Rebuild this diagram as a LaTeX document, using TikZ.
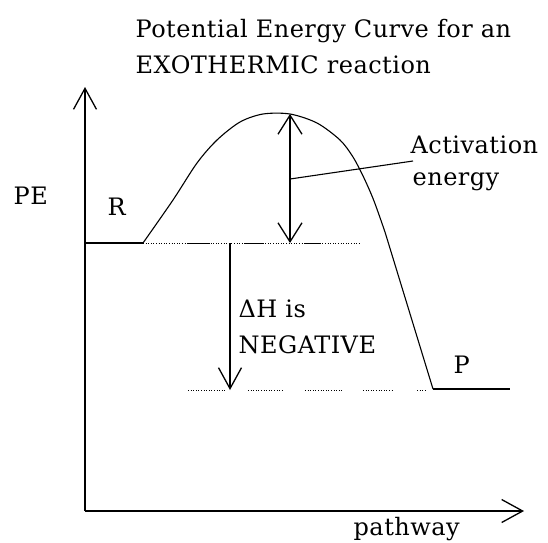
\documentclass[tikz,border=0pt]{standalone}
\usepackage{fontspec}
\setmainfont{DejaVu Serif}[LetterSpace=2]
\usetikzlibrary{arrows.meta}

\tikzset{
  barb/.style={-{Straight Barb[length=21pt,width=23pt]}},
  twobarb/.style={{Straight Barb[length=19pt,width=24pt]}-{Straight Barb[length=19pt,width=24pt]}},
  lbl/.style={anchor=base west,inner sep=0pt,font=\fontsize{24}{28}\selectfont},
  dots/.style={line width=1pt,dash pattern=on 1pt off 1.6pt},
}

\begin{document}
\begin{tikzpicture}[x=1pt,y=-1pt,line width=1.3pt]
    \useasboundingbox (0,0) rectangle (548,542);
    \coordinate (O) at (85,511);
    \coordinate (Ytop) at (85,87);
    \coordinate (Xend) at (524,511);
    \coordinate (R0) at (85,243);
    \coordinate (R1) at (143,243);
    \coordinate (Rdot) at (360,243);
    \coordinate (Top) at (290,114);
    \coordinate (Ebase) at (290,243);
    \coordinate (Emid) at (290,179);
    \coordinate (Elbl) at (413,161);
    \coordinate (Hstart) at (230,243);
    \coordinate (Hend) at (230,390);
    \coordinate (P0) at (433,389);
    \coordinate (P1) at (510,389);
    % axes
    \draw[barb] (O) -- (Ytop);
    \draw[barb] (O) -- (Xend);
    % reactants, hump, products
    \draw (R0) -- (R1);
    \draw[line width=1.1pt] plot[smooth] coordinates {(R1) (173,200) (197,163)
      (217,140) (240,122) (263,114) (290,114) (317,123) (340,140) (353,157)
      (364,178) (374,201) (385,232)} -- (P0);
    \draw (P0) -- (P1);
    % energy levels
    \draw[dots] (R1) -- (Rdot);
    \foreach \a/\b in {188/210,245/263,305/320}
      \draw[line width=1pt] (\a,243) -- (\b,243);
    \foreach \a/\b in {188/225,248/282,305/342,363/393,417/425}
      \draw[dots] (\a,390) -- (\b,390);
    % arrows
    \draw[twobarb] (Top) -- (Ebase);
    \draw[line width=1.1pt] (Emid) -- (Elbl);
    \draw[barb] (Hstart) -- (Hend);
    % labels
    \node[lbl] (title1) at (135,37) {Potential Energy Curve for an};
    \node[lbl] (title2) at (135,73) {EXOTHERMIC reaction};
    \node[lbl] (act) at (410,153) {Activation};
    \node[lbl] (enr) at (412,185) {energy};
    \node[lbl] (pe) at (13,204) {PE};
    \node[lbl] (rlbl) at (107,215) {R};
    \node[lbl] (dh) at (238,317) {ΔH is};
    \node[lbl] (neg) at (238,353) {NEGATIVE};
    \node[lbl] (plbl) at (453,373) {P};
    \node[lbl] (path) at (353,535) {pathway};
\end{tikzpicture}
\end{document}
